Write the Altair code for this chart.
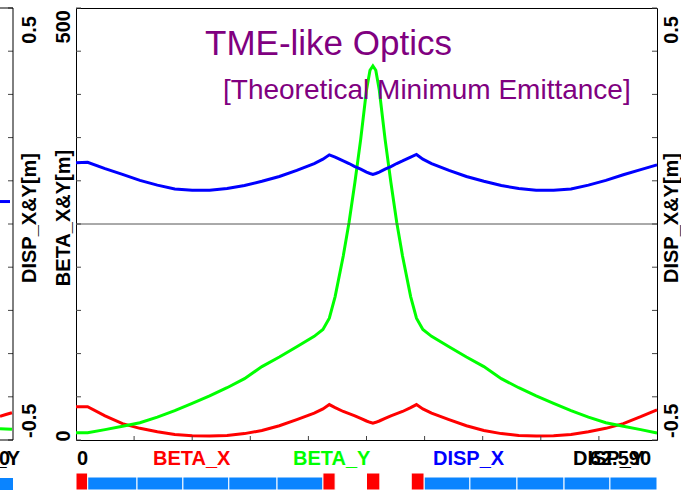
import altair as alt
import pandas as pd

# ---- lattice functions along the cell (s in arbitrary length units 0..10) ----
s_pos = [0.0, 0.2, 0.5, 0.8, 1.1, 1.4, 1.7, 2.0, 2.3, 2.6,
         2.9, 3.2, 3.5, 3.8, 4.1, 4.25, 4.36, 4.46, 4.6, 4.7,
         4.8, 4.9, 5.0, 5.06, 5.11, 5.16, 5.22, 5.32, 5.42, 5.52,
         5.62, 5.76, 5.86, 5.97, 6.12, 6.42, 6.72, 7.02, 7.32, 7.62,
         7.92, 8.22, 8.52, 8.82, 9.12, 9.42, 9.72, 10.0]

beta_x = [38.5, 38.5, 28.0, 19.0, 13.5, 9.5, 6.5, 5.0, 4.6, 5.2,
          7.4, 11.0, 16.5, 23.5, 31.0, 36.0, 41.0, 37.5, 33.0, 30.5,
          28.0, 25.0, 22.0, 20.5, 19.5, 20.5, 22.0, 25.0, 28.0, 30.5,
          33.0, 37.5, 41.0, 36.0, 31.0, 23.5, 16.5, 11.0, 7.4, 5.2,
          4.6, 5.0, 6.5, 9.5, 13.5, 19.0, 27.0, 35.0]

beta_y = [8.4, 8.4, 12.0, 16.0, 20.0, 26.5, 34.0, 42.5, 51.0, 60.5,
          71.0, 85.0, 96.0, 108.0, 120.0, 128.0, 141.0, 166.0, 213.0, 252.0,
          298.0, 348.0, 405.0, 428.0, 433.0, 428.0, 405.0, 348.0, 298.0, 252.0,
          213.0, 166.0, 141.0, 128.0, 120.0, 108.0, 96.0, 85.0, 71.0, 60.5,
          51.0, 42.5, 34.0, 26.5, 20.0, 16.0, 12.0, 8.0]

disp_x = [0.142, 0.143, 0.128, 0.115, 0.101, 0.090, 0.081, 0.078, 0.078, 0.082,
          0.089, 0.099, 0.110, 0.124, 0.140, 0.150, 0.160, 0.155, 0.146, 0.140,
          0.133, 0.127, 0.120, 0.117, 0.115, 0.117, 0.120, 0.127, 0.133, 0.140,
          0.146, 0.155, 0.161, 0.150, 0.140, 0.124, 0.110, 0.099, 0.089, 0.082,
          0.078, 0.078, 0.081, 0.090, 0.101, 0.114, 0.126, 0.137]

# ---- element layout along the beam line ----
bend_start = [0.0, 4.25, 5.0, 5.77]
bend_end = [0.2, 4.46, 5.23, 5.99]
quad_start = [0.2, 1.05, 1.84, 2.63, 3.46, 5.99, 6.78, 7.59, 8.40, 9.19]
quad_end = [1.05, 1.84, 2.63, 3.46, 4.25, 6.78, 7.59, 8.40, 9.19, 10.0]

# ---- tail of the neighbouring cell on the left ----
strip_s = [0.0, 0.45, 0.92]
strip_beta_x = [27.5, 29.5, 31.5]
strip_beta_y = [13.0, 12.8, 12.5]
strip_disp_s = [0.0, 0.77]
strip_disp_x = [0.052, 0.052]
strip_bar_start = [0.0]
strip_bar_end = [1.0]

# ---- ticks and texts ----
beta_ticks = [0, 50, 100, 150, 200, 250, 300, 350, 400, 450, 500]
disp_ticks = [-0.5, -0.4, -0.3, -0.2, -0.1, 0.0, 0.1, 0.2, 0.3, 0.4, 0.5]
s_ticks = [1, 2, 3, 4, 5, 6, 7, 8, 9]
title_lines = ["TME-like Optics", "[Theoretical Minimum Emittance]"]
legend_names = ["BETA_X", "BETA_Y", "DISP_X"]
legend_colors = ["#ff0000", "#00ff00", "#0000ff"]
beta_axis_title = "BETA_X&Y[m]"
disp_axis_title = "DISP_X&Y[m]"
beta_tick_labels = ["0", "500"]
disp_tick_labels = ["-0.5", "0.5"]
s_start_label = "0"
end_labels = ["DISP_Y", "62.590"]

W, H = 581, 432
FONT = "Liberation Sans"
PURPLE = "#800080"
TICK = "#444444"

sx = alt.Scale(domain=[0, 10], nice=False, zero=False)
sb = alt.Scale(domain=[0, 500], nice=False)
sd = alt.Scale(domain=[-0.5, 0.5], nice=False)
sx_strip = alt.Scale(domain=[0, 1], range=[-76, -63], nice=False, zero=False)

optics = pd.DataFrame({"s": s_pos, "betx": beta_x, "bety": beta_y, "dx": disp_x})
bends = pd.DataFrame({"a": bend_start, "b": bend_end})
quads = pd.DataFrame({"a": quad_start, "b": quad_end})
strip = pd.DataFrame({"s": strip_s, "betx": strip_beta_x, "bety": strip_beta_y})
strip_d = pd.DataFrame({"s": strip_disp_s, "dx": strip_disp_x})
strip_bar = pd.DataFrame({"a": strip_bar_start, "b": strip_bar_end})
btk = pd.DataFrame({"v": beta_ticks})
dtk = pd.DataFrame({"v": disp_ticks})
stk = pd.DataFrame({"v": s_ticks})
one = pd.DataFrame({"k": [0]})

X = lambda f: alt.X(f, type="quantitative", scale=sx, axis=None)
XS = lambda f: alt.X(f, type="quantitative", scale=sx_strip, axis=None)
YB = lambda f: alt.Y(f, type="quantitative", scale=sb, axis=None)
YD = lambda f: alt.Y(f, type="quantitative", scale=sd, axis=None)


def text(t, x, y, **kw):
    return alt.Chart(one).mark_text(text=t, font=FONT, **kw).encode(
        x=alt.value(x), y=alt.value(y))


def rot(t, x, y, align, size=20):
    return text(t, x, y, angle=270, align=align, baseline="middle",
                fontSize=size, fontWeight="bold", color="black")


layers = []

# curves of the cell
layers.append(alt.Chart(optics).mark_line(color="#ff0000", strokeWidth=3)
              .encode(x=X("s"), y=YB("betx")))
layers.append(alt.Chart(optics).mark_line(color="#00ff00", strokeWidth=3)
              .encode(x=X("s"), y=YB("bety")))
layers.append(alt.Chart(optics).mark_line(color="#0000ff", strokeWidth=3)
              .encode(x=X("s"), y=YD("dx")))

# zero dispersion line
layers.append(alt.Chart(one).mark_rule(color="#555555", strokeWidth=1)
              .encode(y=alt.datum(0, type="quantitative", scale=sd, axis=None)))

# inward ticks on the frame
layers.append(alt.Chart(btk).mark_rule(color=TICK)
              .encode(y=YB("v"), x=alt.value(0), x2=alt.value(5)))
layers.append(alt.Chart(dtk).mark_rule(color=TICK)
              .encode(y=YD("v"), x=alt.value(W - 5), x2=alt.value(W)))
layers.append(alt.Chart(stk).mark_rule(color=TICK)
              .encode(x=X("v"), y=alt.value(H - 4), y2=alt.value(H)))

# neighbouring cell: curves, frame, ticks
layers.append(alt.Chart(strip).mark_line(color="#ff0000", strokeWidth=3)
              .encode(x=XS("s"), y=YB("betx")))
layers.append(alt.Chart(strip).mark_line(color="#00ff00", strokeWidth=3)
              .encode(x=XS("s"), y=YB("bety")))
layers.append(alt.Chart(strip_d).mark_line(color="#0000ff", strokeWidth=3)
              .encode(x=XS("s"), y=YD("dx")))
layers.append(alt.Chart(btk).mark_rule(color=TICK)
              .encode(y=YB("v"), x=alt.value(-68), x2=alt.value(-63)))
layers.append(alt.Chart(one).mark_rule(color="black")
              .encode(x=alt.value(-63), y=alt.value(0), y2=alt.value(H)))
layers.append(alt.Chart(one).mark_rule(color="black")
              .encode(x=alt.value(-80), x2=alt.value(-63), y=alt.value(0)))
layers.append(alt.Chart(one).mark_rule(color="black")
              .encode(x=alt.value(-80), x2=alt.value(-63), y=alt.value(H)))
layers.append(alt.Chart(strip_bar).mark_rect(color="#0a84ff")
              .encode(x=XS("a"), x2="b", y=alt.value(470), y2=alt.value(482)))

# element bars under the plot
layers.append(alt.Chart(quads).mark_rect(color="#0a84ff", stroke="white", strokeWidth=1)
              .encode(x=X("a"), x2="b", y=alt.value(469), y2=alt.value(482)))
layers.append(alt.Chart(bends).mark_rect(color="#ff0000", stroke="white", strokeWidth=1)
              .encode(x=X("a"), x2="b", y=alt.value(465), y2=alt.value(482)))

# titles
layers.append(text(title_lines[0], 129, 47, fontSize=35, color=PURPLE,
                   align="left", baseline="alphabetic"))
layers.append(text(title_lines[1], 147, 91, fontSize=28, color=PURPLE,
                   align="left", baseline="alphabetic"))

# vertical axis texts
layers.append(rot(beta_axis_title, -12, 210, "center"))
layers.append(rot(beta_tick_labels[1], -12, 2, "right"))
layers.append(rot(beta_tick_labels[0], -12, 428, "center"))
layers.append(rot(disp_axis_title, W + 15, 210, "center"))
layers.append(rot(disp_tick_labels[1], W + 15, 8, "right"))
layers.append(rot(disp_tick_labels[0], W + 15, 430, "left"))
layers.append(rot(disp_axis_title, -46, 210, "center"))
layers.append(rot(disp_tick_labels[1], -46, 8, "right"))
layers.append(rot(disp_tick_labels[0], -46, 430, "left"))

# legend row
LY = 457
LF = 20
layers.append(text(s_start_label, 1, LY, fontSize=LF, fontWeight="bold",
                   color="black", align="left", baseline="alphabetic"))
for i, (name, col) in enumerate(zip(legend_names, legend_colors)):
    layers.append(text(name, 77 + 140 * i, LY, fontSize=LF, fontWeight="bold",
                       color=col, align="left", baseline="alphabetic"))
layers.append(text(end_labels[0], 497, LY, fontSize=LF, fontWeight="bold",
                   color="black", align="left", baseline="alphabetic"))
layers.append(text(end_labels[1], 575, LY, fontSize=LF, fontWeight="bold",
                   color="black", align="right", baseline="alphabetic"))
layers.append(text(end_labels[0], -56, LY, fontSize=LF, fontWeight="bold",
                   color="black", align="right", baseline="alphabetic"))
layers.append(text(end_labels[1], -66, LY, fontSize=LF, fontWeight="bold",
                   color="black", align="right", baseline="alphabetic"))

chart = (
    alt.layer(*layers)
    .resolve_scale(x="independent", y="independent")
    .properties(
        width=W, height=H,
        padding={"left": 76, "top": 8, "right": 24, "bottom": 51},
        autosize=alt.AutoSizeParams(type="none"),
        background="white",
    )
    .configure_view(stroke="black", strokeWidth=1)
)

chart.save("out.html", embed_options={"renderer": "svg", "actions": False})
